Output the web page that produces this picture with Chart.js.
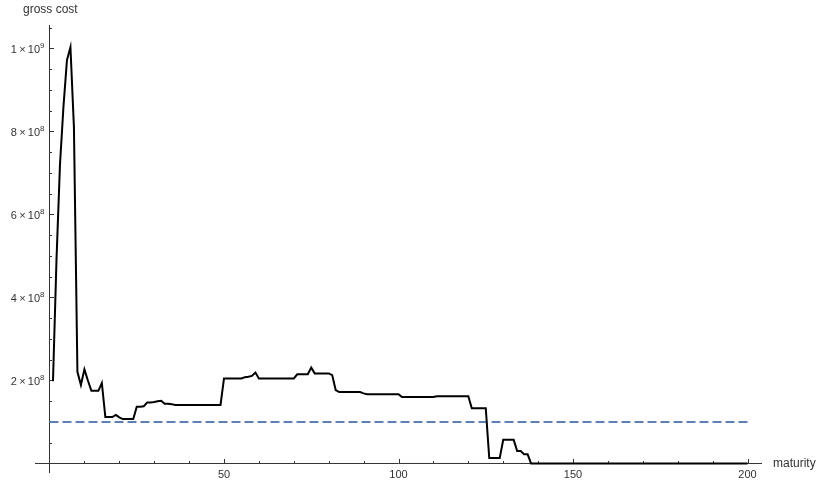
<!DOCTYPE html>
<html>
<head>
<meta charset="utf-8">
<script src="https://cdn.jsdelivr.net/npm/chart.js@4.4.1/dist/chart.umd.min.js"></script>
<style>
  html, body { margin: 0; padding: 0; background: #fff; }
  #wrap { width: 816px; height: 483px; }
</style>
</head>
<body>
<div id="wrap"><canvas id="chart" width="816" height="483"></canvas></div>
<script>
// gross cost per maturity, in units of 1e8
const UNIT = 1e8;
const grossCost = [
  1.98, 4.90, 7.20, 8.60, 9.72, 10.03, 8.10, 2.21, 1.89, 2.27,
  2.00, 1.75, 1.75, 1.75, 1.94, 1.12, 1.12, 1.12, 1.17, 1.11,
  1.07, 1.07, 1.07, 1.07, 1.37, 1.37, 1.38, 1.47, 1.47, 1.48,
  1.50, 1.51, 1.44, 1.44, 1.43, 1.41, 1.41, 1.41, 1.41, 1.41,
  1.41, 1.41, 1.41, 1.41, 1.41, 1.41, 1.41, 1.41, 1.41, 2.05,
  2.05, 2.05, 2.05, 2.05, 2.05, 2.08, 2.09, 2.11, 2.19, 2.05,
  2.05, 2.05, 2.05, 2.05, 2.05, 2.05, 2.05, 2.05, 2.05, 2.05,
  2.15, 2.15, 2.15, 2.15, 2.31, 2.17, 2.17, 2.17, 2.17, 2.17,
  2.13, 1.77, 1.72, 1.72, 1.72, 1.72, 1.72, 1.72, 1.72, 1.69,
  1.67, 1.67, 1.67, 1.67, 1.67, 1.67, 1.67, 1.67, 1.67, 1.67,
  1.60, 1.60, 1.60, 1.60, 1.60, 1.60, 1.60, 1.60, 1.60, 1.60,
  1.62, 1.62, 1.62, 1.62, 1.62, 1.62, 1.62, 1.62, 1.62, 1.62,
  1.33, 1.33, 1.33, 1.33, 1.33, 0.13, 0.13, 0.13, 0.13, 0.57,
  0.57, 0.57, 0.57, 0.30, 0.30, 0.22, 0.22, 0, 0, 0,
  0, 0, 0, 0, 0, 0, 0, 0, 0, 0,
  0, 0, 0, 0, 0, 0, 0, 0, 0, 0,
  0, 0, 0, 0, 0, 0, 0, 0, 0, 0,
  0, 0, 0, 0, 0, 0, 0, 0, 0, 0,
  0, 0, 0, 0, 0, 0, 0, 0, 0, 0,
  0, 0, 0, 0, 0, 0, 0, 0, 0, 0,
];
// maturities run 1..200, one per value
const maturities = grossCost.map((_, i) => i + 1);

// dashed reference level
const refX = [0, 200];
const refLevel = 1e8;

// ticks
const xTicks = [50, 100, 150, 200];
const xTickLabels = ['50', '100', '150', '200'];
const yTicks = [2e8, 4e8, 6e8, 8e8, 1e9];
const yTickLabels = [['2', '8'], ['4', '8'], ['6', '8'], ['8', '8'], ['1', '9']];
const X_MINOR_STEP = 10;
const Y_MINOR_STEP = 0.5e8;

const X_MIN = -4.155, X_MAX = 204.15;
const Y_MIN = -0.229e8, Y_MAX = 10.566e8;

const FONT = '"Liberation Sans", Arial, sans-serif';
const AXIS_COLOR = '#333';
const LABEL_COLOR = '#333';

// Mathematica-style axes crossing at the origin, ticks pointing inward
const mmaAxes = {
  id: 'mmaAxes',
  beforeDatasetsDraw(chart) {
    const { ctx, chartArea: area, scales: { x, y } } = chart;
    const x0 = x.getPixelForValue(0);
    const y0 = y.getPixelForValue(0);
    ctx.save();
    ctx.strokeStyle = AXIS_COLOR;
    ctx.lineWidth = 1;
    ctx.beginPath();
    ctx.moveTo(area.left, y0);
    ctx.lineTo(area.right, y0);
    ctx.moveTo(x0, area.top);
    ctx.lineTo(x0, area.bottom);
    for (let v = X_MINOR_STEP; v <= X_MAX; v += X_MINOR_STEP) {
      const px = Math.round(x.getPixelForValue(v)) + 0.5;
      const len = xTicks.includes(v) ? 4.5 : 2.5;
      ctx.moveTo(px, y0);
      ctx.lineTo(px, y0 - len);
    }
    for (let k = 1; k * Y_MINOR_STEP <= Y_MAX; k++) {
      const v = k * Y_MINOR_STEP;
      const py = Math.round(y.getPixelForValue(v)) + 0.5;
      const len = yTicks.some((t) => Math.abs(t - v) < 1) ? 4.5 : 2.5;
      ctx.moveTo(x0, py);
      ctx.lineTo(x0 + len, py);
    }
    ctx.stroke();

    ctx.fillStyle = LABEL_COLOR;
    ctx.font = '11px ' + FONT;
    ctx.textAlign = 'center';
    ctx.textBaseline = 'top';
    xTicks.forEach((v, i) => {
      ctx.fillText(xTickLabels[i], x.getPixelForValue(v), y0 + 6);
    });

    ctx.textBaseline = 'middle';
    ctx.textAlign = 'left';
    yTicks.forEach((v, i) => {
      const [m, e] = yTickLabels[i];
      const base = m + '\u2009\u00d7\u200910';
      ctx.font = '11px ' + FONT;
      const wb = ctx.measureText(base).width;
      ctx.font = '8px ' + FONT;
      const we = ctx.measureText(e).width;
      const right = x0 - 5;
      const py = y.getPixelForValue(v) + 1;
      ctx.font = '11px ' + FONT;
      ctx.fillText(base, right - wb - we, py);
      ctx.font = '8px ' + FONT;
      ctx.fillText(e, right - we, py - 4);
    });

    ctx.font = '12px ' + FONT;
    ctx.textBaseline = 'alphabetic';
    ctx.fillText('gross cost', 23, 13);
    ctx.textBaseline = 'middle';
    ctx.fillText('maturity', 773, y0);
    ctx.restore();
  },
};

new Chart(document.getElementById('chart'), {
  type: 'line',
  data: {
    datasets: [
      {
        label: 'gross cost',
        data: maturities.map((m, i) => ({ x: m, y: grossCost[i] * UNIT })),
        borderColor: '#000',
        borderWidth: 2,
        pointRadius: 0,
        tension: 0,
        order: 1,
      },
      {
        label: 'reference',
        data: refX.map((v) => ({ x: v, y: refLevel })),
        borderColor: '#5E81B5',
        borderWidth: 2,
        borderDash: [9, 4],
        pointRadius: 0,
        order: 2,
      },
    ],
  },
  options: {
    responsive: false,
    animation: false,
    devicePixelRatio: 1,
    layout: { padding: { left: 35, right: 54, top: 25, bottom: 10 } },
    plugins: { legend: { display: false }, tooltip: { enabled: false } },
    scales: {
      x: { type: 'linear', min: X_MIN, max: X_MAX, display: false },
      y: { type: 'linear', min: Y_MIN, max: Y_MAX, display: false },
    },
  },
  plugins: [mmaAxes],
});
</script>
</body>
</html>
